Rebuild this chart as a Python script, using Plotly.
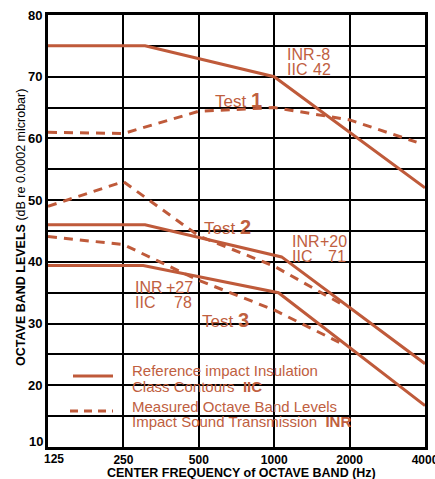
import math
import plotly.graph_objects as go

# ---------------- data ----------------
contour_42_hz = [125, 305, 1000, 4000]
contour_42_db = [75, 75, 70, 52]
contour_71_hz = [125, 305, 1070, 4000]
contour_71_db = [46, 46, 40.8, 23.5]
contour_78_hz = [125, 300, 1040, 4000]
contour_78_db = [39.4, 39.4, 35.0, 16.7]

test1_hz = [125, 250, 500, 1000, 2000, 3700]
test1_db = [61, 60.8, 64.4, 65, 63, 59.4]
test2_hz = [125, 250, 500, 1000, 1850]
test2_db = [49, 53, 44.2, 39.3, 33.2]
test3_hz = [125, 250, 500, 1000, 1850]
test3_db = [44.1, 42.8, 37.0, 32.2, 26.8]

x_tickvals = [125, 250, 500, 1000, 2000, 4000]
x_ticktext = ["125", "250", "500", "1000", "2000", "4000"]
y_tickvals = [10, 15, 20, 25, 30, 35, 40, 45, 50, 55, 60, 65, 70, 75, 80]
y_ticktext = ["10", "", "20", "", "30", "", "40", "", "50", "", "60", "", "70", "", "80"]

LINE = "#bf5a3a"
TXT = "#c0603f"
FONT = "Liberation Sans"
NB = "\u00a0"

fig = go.Figure()
for hz, db in [(contour_42_hz, contour_42_db), (contour_71_hz, contour_71_db), (contour_78_hz, contour_78_db)]:
    fig.add_trace(go.Scatter(x=hz, y=db, mode="lines", line=dict(color=LINE, width=3), showlegend=False, hoverinfo="skip"))
for hz, db in [(test1_hz, test1_db), (test2_hz, test2_db), (test3_hz, test3_db)]:
    fig.add_trace(go.Scatter(x=hz, y=db, mode="lines", line=dict(color=LINE, width=3, dash="9px,7px"), showlegend=False, hoverinfo="skip"))

L, T, W, H = 48, 15, 377, 432
def px(x):
    return (x - L) / W
def py(y):
    return (T + H - y) / H

shapes = [
    dict(type="rect", xref="paper", yref="paper", x0=px(128), x1=px(335), y0=py(431), y1=py(357),
         fillcolor="white", line=dict(width=0), layer="between"),
    dict(type="rect", xref="paper", yref="paper", x0=px(335), x1=px(358), y0=py(425), y1=py(410),
         fillcolor="white", line=dict(width=0), layer="between"),
    dict(type="line", xref="paper", yref="paper", x0=px(73), x1=px(113), y0=py(376), y1=py(376),
         line=dict(color=LINE, width=3), layer="above"),
    dict(type="line", xref="paper", yref="paper", x0=px(70), x1=px(113), y0=py(411), y1=py(411),
         line=dict(color=LINE, width=3, dash="8px,6px"), layer="above"),
]

ann = []
def txt(x, y, s, size=16, xanchor="left", color=TXT, **kw):
    ann.append(dict(x=px(x), y=py(y), xref="paper", yref="paper", text=s, showarrow=False,
                    xanchor=xanchor, yanchor="middle", borderpad=0,
                    font=dict(family=FONT, size=size, color=color), **kw))

# contour labels
txt(286, 54, "INR", size=16)
txt(331, 54, "-8", xanchor="right", size=16)
txt(286, 70, "IIC", size=16)
txt(332, 70, "42", xanchor="right", size=16)
txt(291, 241, "INR", size=16)
txt(348, 241, "+20", xanchor="right", size=16)
txt(291, 256, "IIC", size=16)
txt(347, 256, "71", xanchor="right", size=16)
txt(134, 287, "INR", size=16)
txt(194, 287, "+27", xanchor="right", size=16)
txt(134, 302, "IIC", size=16)
txt(193, 302, "78", xanchor="right", size=16)
# test labels
big = "<b><span style='font-size:20px'>%s</span></b>"
txt(214, 100, "Test" + NB + big % "1", size=17)
txt(203, 227, "Test" + NB + big % "2", size=17)
txt(201, 320, "Test" + NB + big % "3", size=17)
# legend text
txt(131, 370, "Reference impact Insulation", size=15)
txt(131, 386, "Class Contours" + NB * 2 + "<b>IIC</b>", size=15)
txt(131, 406.5, "Measured Octave Band Levels", size=15)
txt(131, 421.5, "Impact Sound Transmission" + NB * 2 + "<b>INR</b>", size=15)
# corner tick labels
txt(44, 441, "<b>%s</b>" % y_ticktext[0], size=13, xanchor="right", color="black")
txt(54, 459, "<b>%s</b>" % x_ticktext[0], size=12, xanchor="center", color="black")
# axis titles
txt(241, 473, "<b>CENTER FREQUENCY of OCTAVE BAND (Hz)</b>", size=12.5, xanchor="center", color="black")
ann.append(dict(x=px(21), y=py(228), xref="paper", yref="paper", showarrow=False, textangle=-90,
                text="<b>OCTAVE BAND LEVELS</b> (dB re 0.0002 microbar)", xanchor="center", yanchor="middle",
                font=dict(family=FONT, size=12.5, color="black")))

fig.update_layout(
    width=435, height=479,
    margin=dict(l=L, r=435 - L - W, t=T, b=479 - T - H, autoexpand=False),
    paper_bgcolor="white", plot_bgcolor="white",
    shapes=shapes, annotations=ann, showlegend=False,
    xaxis=dict(type="log", range=[math.log10(125) - 1e-6, math.log10(4000) + 1e-6], tickvals=x_tickvals,
               ticktext=[""] + x_ticktext[1:], showgrid=True, gridcolor="black", gridwidth=2,
               showline=True, linecolor="black", linewidth=3, mirror=True, ticks="",
               ticklabeloverflow="allow", automargin=False,
               tickfont=dict(family=FONT, size=12, color="black", weight="bold"), zeroline=False),
    yaxis=dict(range=[10, 80], tickvals=y_tickvals, ticktext=[""] + y_ticktext[1:],
               showgrid=True, gridcolor="black", gridwidth=2, automargin=False,
               showline=True, linecolor="black", linewidth=3, mirror=True, ticks="",
               tickfont=dict(family=FONT, size=13, color="black", weight="bold"), zeroline=False),
)
fig.write_html("out.html", config={"displayModeBar": False},
               post_script="document.body.style.margin='0';document.body.style.overflow='hidden';")
